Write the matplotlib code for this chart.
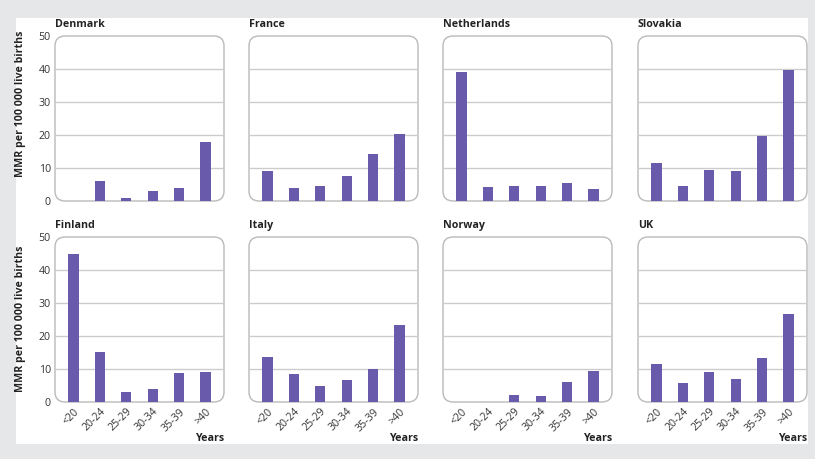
import numpy as np
import matplotlib.pyplot as plt
from matplotlib.patches import FancyBboxPatch, Rectangle

plt.rcParams['font.family'] = ['Open Sans', 'DejaVu Sans']

# Waarden (MMR per 100 000 levendgeborenen)
age_groups = ['<20', '20-24', '25-29', '30-34', '35-39', '>40']
countries = ['Denmark', 'France', 'Netherlands', 'Slovakia',
             'Finland', 'Italy', 'Norway', 'UK']

denmark = [0, 6.2, 1.0, 3.0, 3.9, 17.9]
france = [9.2, 3.8, 4.5, 7.6, 14.1, 20.2]
netherlands = [39.1, 4.1, 4.6, 4.5, 5.4, 3.7]
slovakia = [11.5, 4.5, 9.4, 9.2, 19.6, 39.8]
finland = [45.0, 15.2, 3.1, 4.0, 8.8, 9.2]
italy = [13.7, 8.6, 4.8, 6.8, 9.9, 23.4]
norway = [0, 0, 2.1, 1.9, 6.2, 9.4]
uk = [11.6, 5.8, 9.0, 7.0, 13.2, 26.8]

values = [denmark, france, netherlands, slovakia, finland, italy, norway, uk]

W, H = 815, 459
bar_color = '#6a5aab'
edge_color = '#bababa'
grid_color = '#cccccc'
text_color = '#333333'

fig = plt.figure(figsize=(W / 100, H / 100), dpi=100, facecolor='#e6e7e8')

# witte achtergrond
fig.patches.append(Rectangle((16 / W, 1 - 444 / H), (808 - 16) / W, (444 - 18) / H,
                             transform=fig.transFigure, facecolor='white',
                             edgecolor='none', zorder=-10))

col_left = [55, 249, 443, 638]
row_top = [36, 237]
aw, ah = 169, 165
x = np.arange(len(age_groups))

for i, (name, vals) in enumerate(zip(countries, values)):
    r, c = divmod(i, 4)
    left, top = col_left[c], row_top[r]
    ax = fig.add_axes([left / W, 1 - (top + ah) / H, aw / W, ah / H])
    ax.set_facecolor('none')
    ax.set_xlim(-0.7, 5.7)
    ax.set_ylim(0, 50)
    for s in ax.spines.values():
        s.set_visible(False)

    box = FancyBboxPatch((0, 0), 1, 1, boxstyle='round,pad=0,rounding_size=0.06',
                         transform=ax.transAxes, facecolor='white',
                         edgecolor=edge_color, linewidth=1.0, zorder=0,
                         clip_on=False)
    ax.add_patch(box)
    for g in [10, 20, 30, 40]:
        ax.axhline(g, color=grid_color, linewidth=1.0, zorder=1)

    ax.bar(x, vals, width=0.38, color=bar_color, zorder=2)

    ax.tick_params(length=0, labelsize=7.7, labelcolor=text_color)
    ax.set_yticks([0, 10, 20, 30, 40, 50])
    if c != 0:
        ax.set_yticklabels([])
    else:
        ax.tick_params(axis='y', pad=3)
    ax.set_xticks(x)
    if r == 1:
        ax.set_xticklabels(age_groups, rotation=45, ha='right',
                           rotation_mode='anchor')
        ax.tick_params(axis='x', pad=3)
        ax.text(1.0, -0.185, 'Years', transform=ax.transAxes, ha='right',
                va='top', fontsize=7.7, fontweight='bold', color='#222222')
    else:
        ax.set_xticklabels([])

    ax.text(0, 1.035, name, transform=ax.transAxes, ha='left', va='bottom',
            fontsize=7.7, fontweight='bold', color='#222222')

for yc in [104, 319]:
    fig.text(21 / W, 1 - yc / H, 'MMR per 100 000 live births', rotation=90,
             ha='center', va='center', fontsize=7.7, fontweight='bold',
             color='#222222')

fig.savefig('out.png', dpi=100, facecolor=fig.get_facecolor())
